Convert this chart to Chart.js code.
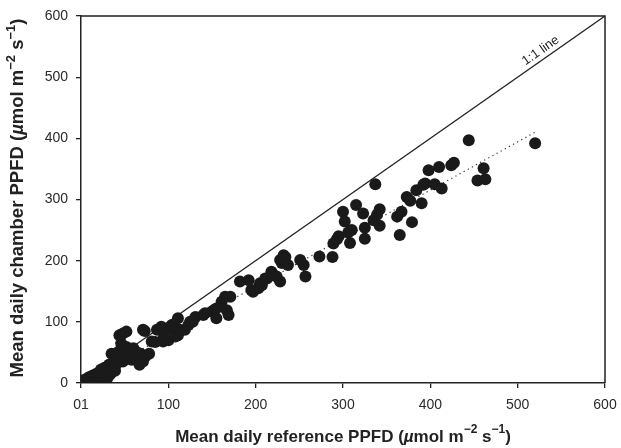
<!DOCTYPE html>
<html>
<head>
<meta charset="utf-8">
<script src="https://cdn.jsdelivr.net/npm/chart.js@4"></script>
<style>
  html, body { margin: 0; padding: 0; background: #fff; }
  canvas { display: block; }
</style>
</head>
<body>
<canvas id="ppfd-chart" width="621" height="448"></canvas>
<script>
// Mean daily reference PPFD vs chamber PPFD (umol m-2 s-1)
const refPPFD = [
    1, 2, 3, 4, 5, 6, 7, 8, 9, 10, 11, 12, 13, 14, 15, 16, 17, 18, 19, 20,
    21, 22, 23, 24, 25, 26, 27, 28, 29, 30, 31, 32, 33, 34, 35, 36, 38, 39, 40, 42,
    44, 44, 46, 47, 48, 48, 50, 52, 52, 54, 56, 58, 60, 62, 63, 64, 66, 67, 68, 71,
    71, 73, 74, 78, 81, 85, 87, 92, 94, 95, 100, 102, 104, 108, 109, 111, 111, 113, 119, 123,
    125, 128, 131, 140, 142, 150, 152, 155, 155, 161, 165, 167, 169, 171, 182, 192, 195, 197, 203, 205,
    207, 211, 213, 218, 220, 224, 220, 228, 228, 230, 232, 234, 237, 251, 255, 257, 273, 288, 289, 293,
    295, 300, 302, 306, 308, 310, 315, 323, 325, 325, 335, 337, 339, 342, 342, 362, 365, 367, 373, 377,
    379, 384, 390, 392, 394, 398, 405, 410, 413, 424, 427, 444, 454, 461, 463, 520
];
const chamberPPFD = [
    1, 3, 2, 5, 3, 6, 4, 8, 5, 10, 7, 3, 12, 8, 2, 14, 10, 5, 16, 12,
    8, 18, 22, 14, 8, 20, 25, 12, 5, 18, 10, 30, 22, 15, 48, 26, 36, 20, 30, 50,
    52, 78, 65, 38, 35, 81, 40, 59, 84, 40, 45, 38, 57, 46, 51, 37, 40, 30, 48, 35,
    87, 85, 44, 48, 68, 67, 87, 92, 68, 76, 70, 89, 95, 76, 89, 78, 106, 87, 87, 95,
    100, 100, 108, 111, 114, 117, 119, 106, 122, 133, 141, 119, 111, 141, 166, 168, 152, 149, 155, 163,
    160, 171, 171, 182, 177, 174, 176, 166, 201, 196, 209, 206, 193, 201, 193, 174, 207, 206, 228, 235,
    240, 280, 264, 246, 229, 250, 291, 277, 236, 254, 266, 325, 275, 284, 257, 272, 242, 280, 304, 298,
    263, 315, 294, 324, 326, 348, 325, 353, 318, 356, 360, 397, 331, 351, 333, 392
];
// Dotted fit line end points
const fitX = [0, 520];
const fitY = [0, 410];
// 1:1 reference line
const oneToOneX = [0, 600];
const oneToOneY = [0, 600];
const tickValues = [0, 100, 200, 300, 400, 500, 600];
const xTickLabels = ['01', '100', '200', '300', '400', '500', '600'];
const yTickLabels = ['0', '100', '200', '300', '400', '500', '600'];

const FONT = '"Liberation Sans", Arial, sans-serif';
const INK = '#222';

function toPoints(xs, ys) {
    return xs.map((x, i) => ({ x: x, y: ys[i] }));
}

// Draw a title made of runs with different fonts (italic mu, superscripts)
function drawRuns(ctx, runs, cx, cy) {
    let total = 0;
    runs.forEach(r => { ctx.font = r.font; total += ctx.measureText(r.text).width; });
    let x = cx - total / 2;
    runs.forEach(r => {
        ctx.font = r.font;
        ctx.fillText(r.text, x, cy - (r.rise || 0));
        x += ctx.measureText(r.text).width;
    });
}

function titleRuns(lead, size) {
    const b = 'bold ' + size + 'px ' + FONT;
    const bi = 'italic bold ' + size + 'px ' + FONT;
    const sup = 'bold ' + Math.round(size * 0.68) + 'px ' + FONT;
    const rise = Math.round(size * 0.4);
    return [
        { text: lead + ' PPFD (', font: b },
        { text: 'µ', font: bi },
        { text: 'mol m', font: b },
        { text: '−2', font: sup, rise: rise },
        { text: ' s', font: b },
        { text: '−1', font: sup, rise: rise },
        { text: ')', font: b }
    ];
}

const decorations = {
    id: 'decorations',
    afterDraw(chart) {
        const { ctx, chartArea: a, scales } = chart;
        ctx.save();
        // frame: top and right edges
        ctx.strokeStyle = INK;
        ctx.lineWidth = 1.5;
        ctx.beginPath();
        ctx.moveTo(a.left, a.top);
        ctx.lineTo(a.right, a.top);
        ctx.lineTo(a.right, a.bottom);
        ctx.stroke();

        // "1:1 line" label along the diagonal
        const px = scales.x.getPixelForValue(532);
        const py = scales.y.getPixelForValue(532);
        const ang = Math.atan2(
            scales.y.getPixelForValue(600) - scales.y.getPixelForValue(0),
            scales.x.getPixelForValue(600) - scales.x.getPixelForValue(0)
        );
        ctx.translate(px, py);
        ctx.rotate(ang);
        ctx.fillStyle = INK;
        ctx.font = '13px ' + FONT;
        ctx.textAlign = 'center';
        ctx.textBaseline = 'bottom';
        ctx.fillText('1:1 line', 0, -2);
        ctx.restore();

        // axis titles
        ctx.save();
        ctx.fillStyle = INK;
        ctx.textAlign = 'left';
        ctx.textBaseline = 'middle';
        drawRuns(ctx, titleRuns('Mean daily reference', 17), (a.left + a.right) / 2, 437);
        ctx.translate(18, 198);
        ctx.rotate(-Math.PI / 2);
        drawRuns(ctx, titleRuns('Mean daily chamber', 18.5), 0, 0);
        ctx.restore();
    }
};

new Chart(document.getElementById('ppfd-chart'), {
    data: {
        datasets: [
            {
                type: 'line',
                data: toPoints(oneToOneX, oneToOneY),
                borderColor: INK,
                borderWidth: 1.3,
                pointRadius: 0,
                order: 2
            },
            {
                type: 'line',
                data: toPoints(fitX, fitY),
                borderColor: '#333',
                borderWidth: 1.2,
                borderDash: [1.2, 3.5],
                pointRadius: 0,
                order: 1
            },
            {
                type: 'scatter',
                data: toPoints(refPPFD, chamberPPFD),
                backgroundColor: '#1a1a1a',
                borderWidth: 0,
                pointRadius: 6,
                order: 0
            }
        ]
    },
    options: {
        responsive: false,
        animation: false,
        layout: { padding: { top: 16, right: 16, left: 0, bottom: 0 } },
        plugins: { legend: { display: false }, tooltip: { enabled: false } },
        scales: {
            x: {
                type: 'linear',
                min: 0,
                max: 600,
                afterBuildTicks: scale => { scale.ticks = tickValues.map(v => ({ value: v })); },
                afterFit: scale => {
                    scale.height = 65;
                    scale.paddingLeft = 0;
                    scale.paddingRight = 0;
                },
                ticks: {
                    callback: (v, i) => xTickLabels[i],
                    font: { family: FONT, size: 14 },
                    color: '#2a2a2a',
                    padding: 9,
                    maxRotation: 0
                },
                grid: { drawOnChartArea: false, tickLength: 5, color: INK, lineWidth: 1.3 },
                border: { color: INK, width: 1.5 }
            },
            y: {
                type: 'linear',
                min: 0,
                max: 600,
                afterBuildTicks: scale => { scale.ticks = tickValues.map(v => ({ value: v })); },
                afterFit: scale => {
                    scale.width = 81;
                    scale.paddingTop = 0;
                    scale.paddingBottom = 0;
                },
                ticks: {
                    callback: (v, i) => yTickLabels[i],
                    font: { family: FONT, size: 14 },
                    color: '#2a2a2a',
                    padding: 8
                },
                grid: { drawOnChartArea: false, tickLength: 5, color: INK, lineWidth: 1.3 },
                border: { color: INK, width: 1.5 }
            }
        }
    },
    plugins: [decorations]
});
</script>
</body>
</html>
